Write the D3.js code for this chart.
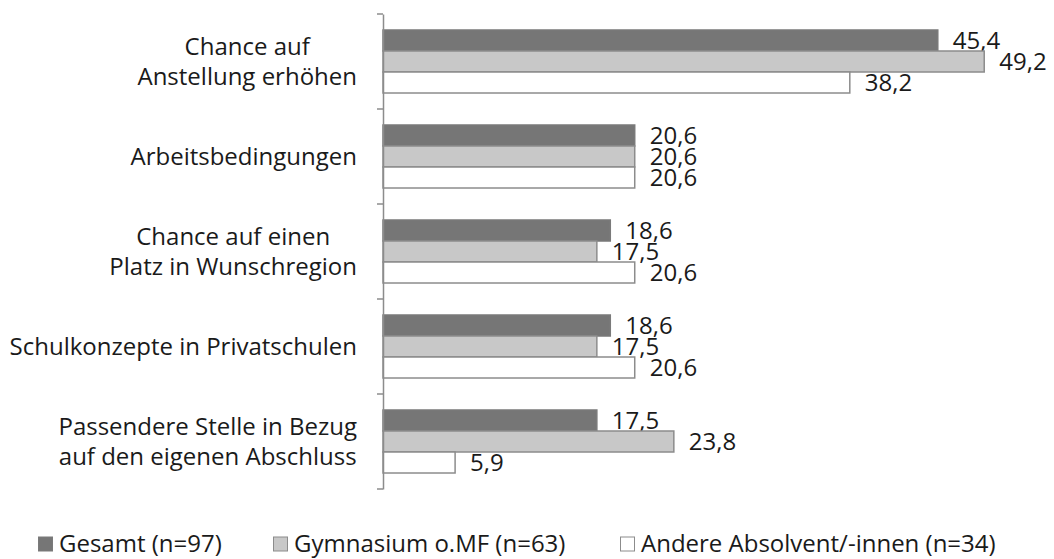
<!DOCTYPE html>
<html>
<head>
<meta charset="utf-8">
<script src="https://cdn.jsdelivr.net/npm/d3@7"></script>
<style>
  body { margin: 0; background: #fff; }
  text { font-family: "Open Sans", "Noto Sans", sans-serif; fill: #1a1a1a; }
</style>
</head>
<body>
<div id="chart"></div>
<script>
var categories = [
  ["Chance auf", "Anstellung erhöhen"],
  ["Arbeitsbedingungen"],
  ["Chance auf einen", "Platz in Wunschregion"],
  ["Schulkonzepte in Privatschulen"],
  ["Passendere Stelle in Bezug", "auf den eigenen Abschluss"]
];
var seriesNames = ["Gesamt (n=97)", "Gymnasium o.MF (n=63)", "Andere Absolvent/-innen (n=34)"];
var gesamt = [45.4, 20.6, 18.6, 18.6, 17.5];
var gymnasium = [49.2, 20.6, 17.5, 17.5, 23.8];
var andere = [38.2, 20.6, 20.6, 20.6, 5.9];

var fills = ["#767676", "#c8c8c8", "#ffffff"];
var strokes = ["#7a7a7a", "#8c8c8c", "#8c8c8c"];

var width = 1054;
var height = 559;
var margin = { top: 14, right: 60, bottom: 70, left: 383 };
var fontSize = "24px";

var series = [gesamt, gymnasium, andere];
var fmt = function (v) { return d3.format(".1f")(v).replace(".", ","); };

var svg = d3.select("#chart").append("svg")
  .attr("width", width)
  .attr("height", height);

var x = d3.scaleLinear().domain([0, 50]).range([margin.left, margin.left + 611]);
var y = d3.scaleBand().domain(d3.range(categories.length))
  .range([margin.top, margin.top + 475]);
var inner = d3.scaleBand().domain(d3.range(3))
  .range([0, 63]);

// bars
series.forEach(function (vals, s) {
  var g = svg.append("g");
  g.selectAll("rect")
    .data(vals)
    .join("rect")
    .attr("x", x(0))
    .attr("y", (d, i) => y(i) + (y.bandwidth() - 63) / 2 + inner(s))
    .attr("width", (d) => x(d) - x(0))
    .attr("height", inner.bandwidth())
    .attr("fill", fills[s])
    .attr("stroke", strokes[s])
    .attr("stroke-width", 1.5);

  g.selectAll("text")
    .data(vals)
    .join("text")
    .attr("x", (d) => x(d) + 15)
    .attr("y", (d, i) => y(i) + (y.bandwidth() - 63) / 2 + inner(s) + inner.bandwidth() / 2)
    .attr("dy", "0.36em")
    .style("font-size", fontSize)
    .text(fmt);
});

// axis
var axis = svg.append("g")
  .attr("transform", `translate(${x(0)},0)`)
  .call(d3.axisLeft(y).tickValues([]).tickSizeOuter(0));
axis.select(".domain").attr("stroke", "#8c8c8c").attr("stroke-width", 1.5);
var edges = d3.range(categories.length + 1).map((i) => margin.top + i * y.step());
axis.selectAll("line.sep")
  .data(edges)
  .join("line")
  .attr("class", "sep")
  .attr("x1", -6)
  .attr("x2", 0)
  .attr("y1", (d) => d)
  .attr("y2", (d) => d)
  .attr("stroke", "#8c8c8c")
  .attr("stroke-width", 1.5);

// category labels (lines centered, block right edge at ~357)
var labels = svg.append("g");
categories.forEach(function (lines, i) {
  var t = labels.append("text")
    .attr("text-anchor", "middle")
    .style("font-size", fontSize);
  var cy = y(i) + y.bandwidth() / 2;
  var lh = 30.5;
  var spans = lines.map(function (line, j) {
    return t.append("tspan")
      .attr("y", cy + (j - (lines.length - 1) / 2) * lh)
      .attr("dy", "0.36em")
      .text(line);
  });
  var w = d3.max(spans, (sp) => sp.node().getComputedTextLength());
  spans.forEach((sp) => sp.attr("x", 357 - w / 2));
});

// legend
var legendX = [38, 273, 620];
var legend = svg.append("g").selectAll("g")
  .data(seriesNames)
  .join("g")
  .attr("transform", (d, i) => `translate(${legendX[i]},543)`);
legend.append("rect")
  .attr("x", 0.5)
  .attr("y", -6)
  .attr("width", 14)
  .attr("height", 14)
  .attr("fill", (d, i) => fills[i])
  .attr("stroke", (d, i) => strokes[i]);
legend.append("text")
  .attr("x", 21)
  .attr("y", 0)
  .attr("dy", "0.36em")
  .style("font-size", fontSize)
  .text((d) => d);
</script>
</body>
</html>
